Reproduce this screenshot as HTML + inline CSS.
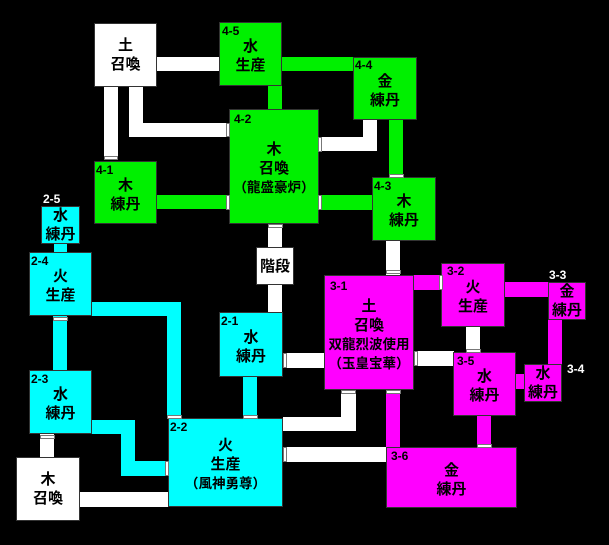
<!DOCTYPE html>
<html><head><meta charset="utf-8"><style>
body{margin:0;background:#000;width:609px;height:545px;overflow:hidden;position:relative;font-family:"Liberation Sans","Noto Sans CJK JP",sans-serif;}
div{position:absolute;box-sizing:border-box;}
.w{background:#fff;}
.g{background:#00f000;}
.c{background:#00ffff;}
.m{background:#ff00ff;}
.n{border:1px solid #333;display:flex;flex-direction:column;align-items:center;justify-content:center;font-weight:bold;font-size:15px;line-height:19px;color:#000;text-align:center;}
.n span{position:static;display:block;white-space:nowrap;}
.s{font-size:13.5px;}
.l{font-weight:bold;font-size:12px;color:#000;line-height:12px;}
.lw{color:#fff;}
.d{background:#fff;border:1px solid #777;}
</style></head><body>
<!-- corridors -->
<div class="w" style="left:157px;top:57px;width:63px;height:14px"></div>
<div class="g" style="left:282px;top:57px;width:72px;height:14px"></div>
<div class="g" style="left:268px;top:86px;width:14px;height:24px"></div>
<div class="w" style="left:104px;top:87px;width:14px;height:72px"></div>
<div class="w" style="left:129px;top:87px;width:14px;height:50px"></div>
<div class="w" style="left:129px;top:123px;width:98px;height:14px"></div>
<div class="g" style="left:157px;top:195px;width:72px;height:14px"></div>
<div class="w" style="left:318px;top:137px;width:59px;height:14px"></div>
<div class="w" style="left:363px;top:120px;width:14px;height:31px"></div>
<div class="g" style="left:389px;top:120px;width:14px;height:57px"></div>
<div class="g" style="left:318px;top:195px;width:55px;height:15px"></div>
<div class="w" style="left:386px;top:241px;width:14px;height:34px"></div>
<div class="w" style="left:268px;top:224px;width:14px;height:24px"></div>
<div class="w" style="left:268px;top:285px;width:14px;height:28px"></div>
<div class="c" style="left:54px;top:244px;width:13px;height:9px"></div>
<div class="c" style="left:92px;top:302px;width:89px;height:14px"></div>
<div class="c" style="left:167px;top:302px;width:14px;height:116px"></div>
<div class="c" style="left:53px;top:316px;width:14px;height:55px"></div>
<div class="c" style="left:92px;top:420px;width:43px;height:14px"></div>
<div class="c" style="left:121px;top:420px;width:14px;height:56px"></div>
<div class="c" style="left:121px;top:461px;width:47px;height:15px"></div>
<div class="w" style="left:40px;top:434px;width:14px;height:24px"></div>
<div class="w" style="left:80px;top:492px;width:88px;height:15px"></div>
<div class="c" style="left:243px;top:377px;width:14px;height:41px"></div>
<div class="w" style="left:283px;top:353px;width:42px;height:15px"></div>
<div class="w" style="left:283px;top:417px;width:73px;height:14px"></div>
<div class="w" style="left:341px;top:390px;width:15px;height:41px"></div>
<div class="w" style="left:283px;top:447px;width:104px;height:15px"></div>
<div class="m" style="left:413px;top:275px;width:29px;height:15px"></div>
<div class="w" style="left:414px;top:351px;width:40px;height:15px"></div>
<div class="w" style="left:466px;top:327px;width:14px;height:25px"></div>
<div class="m" style="left:505px;top:282px;width:45px;height:15px"></div>
<div class="m" style="left:548px;top:318px;width:14px;height:48px"></div>
<div class="m" style="left:515px;top:374px;width:10px;height:15px"></div>
<div class="m" style="left:386px;top:389px;width:14px;height:59px"></div>
<div class="m" style="left:477px;top:415px;width:14px;height:33px"></div>
<!-- nodes -->
<div class="n w" style="left:94px;top:23px;width:63px;height:64px"><span>土</span><span>召喚</span></div>
<div class="n g" style="left:219px;top:22px;width:63px;height:64px;padding-top:4px"><span>水</span><span>生産</span></div>
<div class="n g" style="left:353px;top:57px;width:64px;height:63px;padding-top:4px"><span>金</span><span>練丹</span></div>
<div class="n g" style="left:229px;top:109px;width:90px;height:115px;padding-top:4px"><span>木</span><span>召喚</span><span class="s">（龍盛豪炉）</span></div>
<div class="n g" style="left:94px;top:161px;width:63px;height:63px;padding-top:4px"><span>木</span><span>練丹</span></div>
<div class="n g" style="left:372px;top:177px;width:64px;height:64px;padding-top:4px"><span>木</span><span>練丹</span></div>
<div class="n w" style="left:256px;top:247px;width:38px;height:38px"><span>階段</span></div>
<div class="n c" style="left:41px;top:206px;width:39px;height:38px"><span>水</span><span>練丹</span></div>
<div class="n c" style="left:29px;top:252px;width:63px;height:64px;padding-top:4px"><span>火</span><span>生産</span></div>
<div class="n c" style="left:29px;top:370px;width:63px;height:64px;padding-top:4px"><span>水</span><span>練丹</span></div>
<div class="n w" style="left:16px;top:457px;width:64px;height:64px"><span>木</span><span>召喚</span></div>
<div class="n c" style="left:219px;top:312px;width:64px;height:65px;padding-top:4px"><span>水</span><span>練丹</span></div>
<div class="n c" style="left:168px;top:418px;width:115px;height:89px;padding-top:4px"><span>火</span><span>生産</span><span class="s">（風神勇尊）</span></div>
<div class="n m" style="left:324px;top:275px;width:90px;height:115px;padding-top:4px"><span>土</span><span>召喚</span><span class="s">双龍烈波使用</span><span class="s">（玉皇宝華）</span></div>
<div class="n m" style="left:441px;top:263px;width:64px;height:64px;padding-top:4px"><span>火</span><span>生産</span></div>
<div class="n m" style="left:548px;top:282px;width:38px;height:38px"><span>金</span><span>練丹</span></div>
<div class="n m" style="left:453px;top:352px;width:63px;height:64px;padding-top:4px"><span>水</span><span>練丹</span></div>
<div class="n m" style="left:524px;top:364px;width:38px;height:38px"><span>水</span><span>練丹</span></div>
<div class="n m" style="left:386px;top:447px;width:131px;height:61px;padding-top:4px"><span>金</span><span>練丹</span></div>
<!-- labels -->
<div class="l" style="left:222px;top:25px">4-5</div>
<div class="l" style="left:355px;top:59px">4-4</div>
<div class="l" style="left:234px;top:113px">4-2</div>
<div class="l" style="left:96px;top:164px">4-1</div>
<div class="l" style="left:374px;top:180px">4-3</div>
<div class="l lw" style="left:43px;top:193px">2-5</div>
<div class="l" style="left:31px;top:255px">2-4</div>
<div class="l" style="left:31px;top:373px">2-3</div>
<div class="l" style="left:221px;top:315px">2-1</div>
<div class="l" style="left:170px;top:421px">2-2</div>
<div class="l" style="left:330px;top:280px">3-1</div>
<div class="l" style="left:447px;top:265px">3-2</div>
<div class="l lw" style="left:549px;top:269px">3-3</div>
<div class="l lw" style="left:567px;top:363px">3-4</div>
<div class="l" style="left:457px;top:355px">3-5</div>
<div class="l" style="left:391px;top:450px">3-6</div>
<!-- doors -->
<div class="d" style="left:104px;top:156px;width:14px;height:4px"></div>
<div class="d" style="left:226px;top:123px;width:4px;height:14px"></div>
<div class="d" style="left:226px;top:195px;width:4px;height:15px"></div>
<div class="d" style="left:318px;top:137px;width:4px;height:15px"></div>
<div class="d" style="left:318px;top:195px;width:4px;height:15px"></div>
<div class="d" style="left:389px;top:174px;width:15px;height:4px"></div>
<div class="d" style="left:268px;top:224px;width:15px;height:4px"></div>
<div class="d" style="left:386px;top:270px;width:15px;height:4px"></div>
<div class="d" style="left:53px;top:317px;width:15px;height:4px"></div>
<div class="d" style="left:167px;top:415px;width:15px;height:4px"></div>
<div class="d" style="left:243px;top:415px;width:15px;height:4px"></div>
<div class="d" style="left:40px;top:435px;width:15px;height:4px"></div>
<div class="d" style="left:165px;top:461px;width:4px;height:15px"></div>
<div class="d" style="left:283px;top:353px;width:4px;height:15px"></div>
<div class="d" style="left:283px;top:447px;width:4px;height:15px"></div>
<div class="d" style="left:341px;top:390px;width:15px;height:4px"></div>
<div class="d" style="left:386px;top:390px;width:15px;height:4px"></div>
<div class="d" style="left:439px;top:275px;width:4px;height:15px"></div>
<div class="d" style="left:414px;top:351px;width:4px;height:15px"></div>
<div class="d" style="left:466px;top:349px;width:15px;height:4px"></div>
<div class="d" style="left:477px;top:444px;width:15px;height:4px"></div>
</body></html>
